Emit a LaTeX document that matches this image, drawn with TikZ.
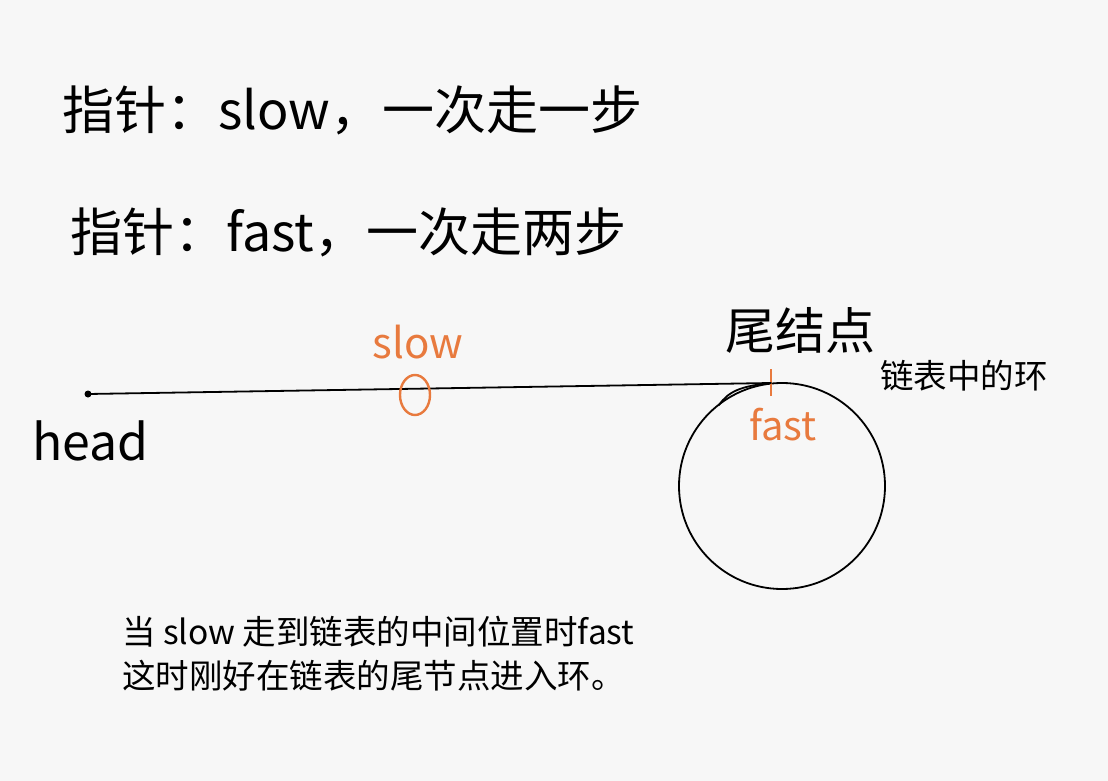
\documentclass[tikz,border=0pt]{standalone}
\usepackage{fontspec}
\usetikzlibrary{shapes.geometric}
\setmainfont{Noto Sans CJK SC}
\newfontfamily\cjk{Noto Sans CJK SC}
\definecolor{bgcol}{HTML}{F7F7F7}
\definecolor{penorange}{HTML}{E87A3E}
\tikzset{
  title/.style={anchor=west,inner sep=0pt,font=\cjk\fontsize{52}{58}\selectfont},
  note/.style={anchor=west,inner sep=0pt,font=\cjk\fontsize{33.5}{40}\selectfont},
  hand/.style={inner sep=0pt,font=\cjk\fontsize{#1}{#1}\selectfont},
  hand/.default=44,
  pen/.style={line width=1.8pt,line cap=round},
}
\begin{document}
\begin{tikzpicture}[x=1pt,y=-1pt]
        \fill[bgcol] (0,0) rectangle (1108,781);
        \useasboundingbox (0,0) rectangle (1108,781);
        \node[title] (T1) at (62,110) {指针：slow，一次走一步};
        \node[title] (T2) at (70,232) {指针：fast，一次走两步};
        \coordinate (H) at (88,394);
        \coordinate (E) at (771,383);
        \fill (H) circle (3.5);
        \draw[pen] (H) -- (E);
        \node[hand=50,anchor=north west] (HL) at (32,420) {head};
        \node[draw=penorange,line width=2.4pt,ellipse,minimum width=30,minimum height=40,inner sep=0pt] (S) at (415,395) {};
        \node[hand=42,text=penorange] (SL) at (418,342) {slow};
        \node[hand=50] (TL) at (800,330) {尾结点};
        \node[circle,draw,pen,minimum size=206,inner sep=0pt] (C) at (782,486) {};
        \draw[penorange,line width=2.6pt] ([yshift=-13]E) -- ([yshift=14]E);
        \draw[pen] (E) .. controls (740,386) and (728,392) .. (719,405);
        \node[hand=40,text=penorange] (FL) at (783,425) {fast};
        \node[note] (RL) at (880,376) {链表中的环};
        \node[note] (N1) at (122,632) {当 slow 走到链表的中间位置时fast};
        \node[note] (N2) at (122,676) {这时刚好在链表的尾节点进入环。};
\end{tikzpicture}
\end{document}
